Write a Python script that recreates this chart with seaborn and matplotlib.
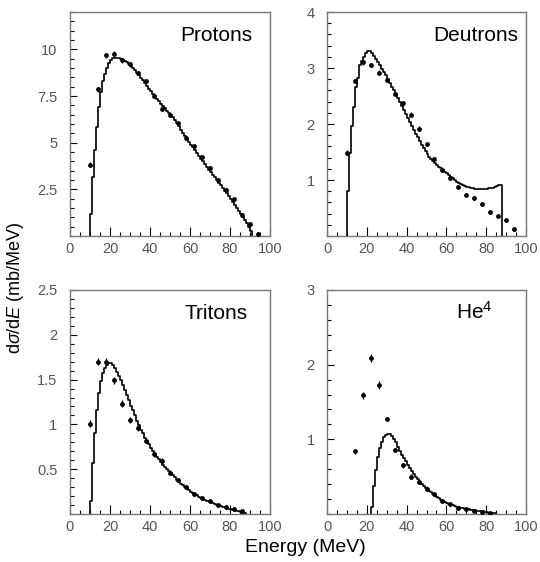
import numpy as np
import pandas as pd
import matplotlib
matplotlib.use("Agg")
import matplotlib.pyplot as plt
import seaborn as sns
from matplotlib.ticker import MultipleLocator, FixedLocator, FuncFormatter

# ---------------- data ----------------
# histogram (model) values in 1 MeV bins, starting at *_start
proton_start = 10
proton_hist = [1.2, 3.15, 4.6, 5.85, 6.9, 7.7, 8.3, 8.7, 9.0, 9.25,
               9.42, 9.52, 9.56, 9.56, 9.53, 9.5, 9.45, 9.38, 9.3, 9.22,
               9.12, 9.0, 8.88, 8.75, 8.62, 8.48, 8.34, 8.2, 8.05, 7.9,
               7.76, 7.62, 7.48, 7.35, 7.22, 7.08, 6.95, 6.84, 6.72, 6.6,
               6.48, 6.38, 6.22, 6.05, 5.88, 5.7, 5.53, 5.36, 5.2, 5.05,
               4.9, 4.75, 4.6, 4.45, 4.3, 4.15, 4.0, 3.85, 3.7, 3.56,
               3.42, 3.28, 3.14, 3.0, 2.86, 2.72, 2.58, 2.43, 2.28, 2.13,
               1.98, 1.83, 1.68, 1.52, 1.36, 1.2, 1.04, 0.87, 0.7, 0.5,
               0.25]
proton_E = [10, 14, 18, 22, 26, 30, 34, 38, 42, 46, 50, 54, 58, 62, 66, 70,
            74, 78, 82, 86, 90, 94]
proton_pts = [3.83, 7.86, 9.68, 9.77, 9.41, 9.2, 8.74, 8.31, 7.51, 6.8, 6.5,
              6.03, 5.25, 4.8, 4.22, 3.63, 3.02, 2.49, 1.96, 1.14, 0.62, 0.12]
proton_err = [0.12, 0.12, 0.12, 0.12, 0.12, 0.12, 0.12, 0.12, 0.1, 0.1, 0.1,
              0.1, 0.1, 0.1, 0.1, 0.1, 0.1, 0.1, 0.08, 0.08, 0.08, 0.08]

deut_start = 10
deut_hist = [0.8, 1.48, 1.96, 2.31, 2.67, 2.82, 3.05, 3.13, 3.2, 3.26,
             3.3, 3.3, 3.27, 3.22, 3.17, 3.11, 3.05, 2.99, 2.93, 2.87,
             2.81, 2.74, 2.67, 2.6, 2.53, 2.46, 2.39, 2.32, 2.25, 2.18,
             2.11, 2.04, 1.97, 1.9, 1.83, 1.76, 1.69, 1.63, 1.57, 1.51,
             1.46, 1.42, 1.38, 1.34, 1.3, 1.27, 1.24, 1.21, 1.18, 1.15,
             1.12, 1.09, 1.06, 1.03, 1.0, 0.97, 0.95, 0.93, 0.91, 0.89,
             0.88, 0.87, 0.86, 0.85, 0.845, 0.84, 0.84, 0.84, 0.84, 0.84,
             0.845, 0.85, 0.855, 0.86, 0.87, 0.89, 0.91, 0.92]
deut_E = [10, 14, 18, 22, 26, 30, 34, 38, 42, 46, 50, 54, 58, 62, 66, 70,
          74, 78, 82, 86, 90, 94]
deut_pts = [1.49, 2.77, 3.1, 3.05, 2.92, 2.79, 2.54, 2.38, 2.17, 1.92, 1.64,
            1.375, 1.18, 1.03, 0.88, 0.74, 0.68, 0.57, 0.43, 0.36, 0.29, 0.12]
deut_err = [0.04, 0.04, 0.04, 0.04, 0.04, 0.04, 0.04, 0.04, 0.04, 0.04, 0.03,
            0.03, 0.03, 0.03, 0.03, 0.03, 0.03, 0.03, 0.03, 0.03, 0.03, 0.03]

trit_start = 10
trit_hist = [0.14, 0.57, 0.9, 1.16, 1.35, 1.48, 1.57, 1.63, 1.66, 1.68,
             1.68, 1.66, 1.63, 1.59, 1.54, 1.49, 1.44, 1.38, 1.33, 1.27,
             1.21, 1.16, 1.1, 1.04, 0.99, 0.94, 0.9, 0.85, 0.81, 0.78,
             0.74, 0.7, 0.67, 0.64, 0.61, 0.58, 0.55, 0.53, 0.5, 0.48,
             0.46, 0.43, 0.41, 0.38, 0.36, 0.34, 0.32, 0.3, 0.29, 0.27,
             0.25, 0.23, 0.22, 0.21, 0.19, 0.18, 0.17, 0.16, 0.15, 0.14,
             0.13, 0.12, 0.11, 0.1, 0.097, 0.09, 0.083, 0.075, 0.067, 0.06,
             0.053, 0.046, 0.04, 0.035, 0.03, 0.025, 0.02, 0.015]
trit_E = [10, 14, 18, 22, 26, 30, 34, 38, 42, 46, 50, 54, 58, 62, 66, 70,
          74, 78, 82, 86]
trit_pts = [1.007, 1.7, 1.7, 1.49, 1.23, 1.05, 0.96, 0.82, 0.67, 0.59, 0.46,
            0.38, 0.3, 0.22, 0.18, 0.14, 0.1, 0.074, 0.056, 0.03]
trit_err = [0.04, 0.04, 0.04, 0.04, 0.04, 0.03, 0.03, 0.03, 0.03, 0.03, 0.02,
            0.02, 0.02, 0.02, 0.02, 0.02, 0.02, 0.02, 0.02, 0.02]

he4_start = 22
he4_hist = [0.1, 0.37, 0.59, 0.77, 0.88, 0.97, 1.03, 1.06, 1.07, 1.07,
            1.05, 1.01, 0.96, 0.9, 0.84, 0.79, 0.75, 0.71, 0.66, 0.62,
            0.58, 0.54, 0.5, 0.47, 0.43, 0.4, 0.37, 0.35, 0.33, 0.31,
            0.29, 0.27, 0.25, 0.23, 0.21, 0.19, 0.18, 0.16, 0.15, 0.135,
            0.125, 0.115, 0.105, 0.095, 0.088, 0.08, 0.075, 0.07, 0.066, 0.062,
            0.057, 0.053, 0.05, 0.046, 0.042, 0.038, 0.035, 0.03, 0.025, 0.02,
            0.016, 0.012, 0.008]
he4_E = [14, 18, 22, 26, 30, 34, 38, 42, 46, 50, 54, 58, 62, 66, 70, 74, 78, 82]
he4_pts = [0.84, 1.59, 2.09, 1.73, 1.275, 0.86, 0.65, 0.5, 0.43, 0.34, 0.27,
           0.18, 0.13, 0.08, 0.067, 0.045, 0.027, 0.012]
he4_err = [0.03, 0.05, 0.05, 0.05, 0.03, 0.03, 0.03, 0.03, 0.03, 0.03, 0.03,
           0.02, 0.02, 0.02, 0.02, 0.02, 0.02, 0.02]

x_ticks = [0, 20, 40, 60, 80, 100]

# ---------------- style ----------------
sns.set_style("ticks")
plt.rcParams['font.family'] = ['Liberation Sans', 'DejaVu Sans']
plt.rcParams['mathtext.fontset'] = 'custom'
plt.rcParams['mathtext.rm'] = 'Liberation Sans'
plt.rcParams['mathtext.it'] = 'Liberation Sans:italic'
plt.rcParams['mathtext.sf'] = 'Liberation Sans'

fig = plt.figure(figsize=(5.4, 5.62), dpi=100)

W = 0.3704
H = 0.3986
axes_pos = {
    'p': [70 / 540, 0.580, W, H],
    'd': [327 / 540, 0.580, 199 / 540, H],
    't': [70 / 540, 0.0854, W, H],
    'h': [327 / 540, 0.0854, 199 / 540, H],
}

tick_col = '#555555'


def fmt(v, pos):
    return '%g' % v


def panel(key, start, hist, E, pts, err, ymax, majors, minor, title, tx):
    ax = fig.add_axes(axes_pos[key])
    edges = start + np.arange(len(hist) + 1)
    xs = np.concatenate([[edges[0]], edges])
    ys = np.concatenate([[0.0], np.asarray(hist, float), [0.0]])
    df = pd.DataFrame({'E': xs, 'v': ys})
    sns.lineplot(data=df, x='E', y='v', ax=ax, estimator=None, sort=False,
                 drawstyle='steps-post', color='black', linewidth=1.2)
    ax.errorbar(E, pts, yerr=err, fmt='none', ecolor='black',
                elinewidth=0.9, capsize=0, zorder=3)
    sns.scatterplot(x=E, y=pts, ax=ax, color='black', s=12, linewidth=0,
                    zorder=4)
    ax.set_xlim(0, 100)
    ax.set_ylim(0, ymax)
    ax.xaxis.set_major_locator(FixedLocator(x_ticks))
    ax.xaxis.set_minor_locator(MultipleLocator(5))
    ax.yaxis.set_major_locator(FixedLocator(majors))
    ax.yaxis.set_minor_locator(MultipleLocator(minor))
    ax.xaxis.set_major_formatter(FuncFormatter(fmt))
    ax.yaxis.set_major_formatter(FuncFormatter(fmt))
    ax.set_xlabel('')
    ax.set_ylabel('')
    ax.tick_params(axis='both', which='both', direction='in', color='black',
                   labelcolor=tick_col, labelsize=10.5, top=False, right=False,
                   bottom=True, left=True)
    ax.tick_params(axis='x', which='major', length=6.5, width=0.8, pad=4)
    ax.tick_params(axis='x', which='minor', length=3.2, width=0.8)
    ax.tick_params(axis='y', which='major', length=5, width=0.8, pad=9)
    ax.tick_params(axis='y', which='minor', length=3, width=0.8)
    for s in ax.spines.values():
        s.set_visible(True)
        s.set_color('#777777')
        s.set_linewidth(1.0)
    ax.text(tx, 0.872, title, transform=ax.transAxes, ha='right',
            va='baseline', fontsize=15, color='black')
    return ax


panel('p', proton_start, proton_hist, proton_E, proton_pts, proton_err,
      12, [2.5, 5, 7.5, 10], 0.5, 'Protons', 0.91)
panel('d', deut_start, deut_hist, deut_E, deut_pts, deut_err,
      4, [1, 2, 3, 4], 0.2, 'Deutrons', 0.96)
panel('t', trit_start, trit_hist, trit_E, trit_pts, trit_err,
      2.5, [0.5, 1, 1.5, 2, 2.5], 0.1, 'Tritons', 0.89)
panel('h', he4_start, he4_hist, he4_E, he4_pts, he4_err,
      3, [1, 2, 3], 0.2, r'He$^{\mathregular{4}}$', 0.83)

fig.text(0.028, 0.4875, r'd$\sigma$/d$E$ (mb/MeV)', rotation=90,
         ha='center', va='center', fontsize=13, color='black')
fig.text(0.565, 0.018, 'Energy (MeV)', ha='center', va='baseline',
         fontsize=14, color='black')

fig.savefig('out.png', dpi=100)
